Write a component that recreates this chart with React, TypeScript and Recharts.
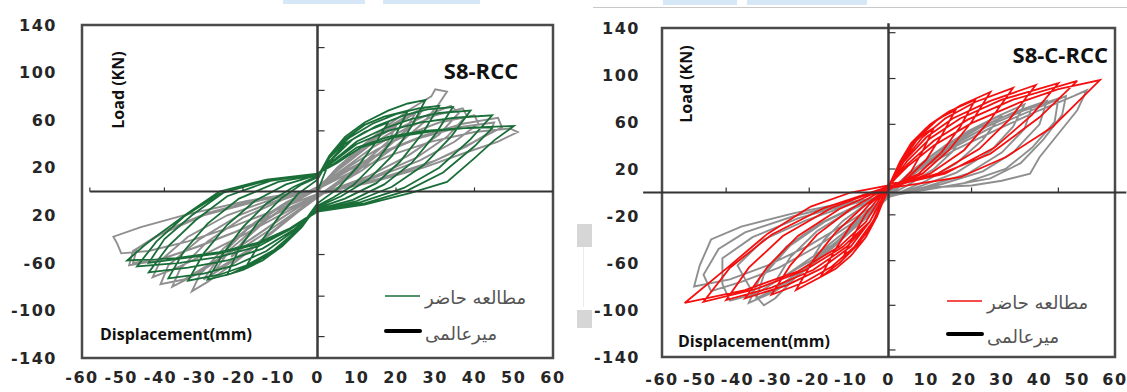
import { ComposedChart, Line, XAxis, YAxis, ReferenceLine, ReferenceArea, Legend } from 'recharts'

type Pt = [number, number]

const xTicks = [-60, -50, -40, -30, -20, -10, 0, 10, 20, 30, 40, 50, 60]
const yTicks = [-140, -100, -60, -20, 20, 60, 100, 140]
const rccYLabels = ['-140', '-100', '-60', '20', '20', '60', '100', '140']
const crccYLabels = ['-140', '-100', '-60', '-20', '20', '60', '100', '140']

const legendNames = ['مطالعه حاضر', 'میرعالمی']

// S8-RCC, present study (FE) - one row per cycle
const rccModel: Pt[][] = [
  [[0, 0], [3, 25], [7, 40], [12, 50], [18, 58], [15, 42], [10, 20], [5, 2], [0, -10], [-4, -28], [-8, -42], [-13, -54], [-18, -62], [-15, -45], [-10, -22], [-5, -2], [0, 10]],
  [[3, 28], [7, 44], [12, 56], [17, 63], [23, 68], [20, 48], [15, 25], [9, 5], [4, -5], [0, -12], [-4, -30], [-9, -46], [-14, -58], [-19, -66], [-23, -70], [-20, -48], [-15, -25], [-9, -5], [-4, 6], [0, 12]],
  [[3, 30], [7, 46], [12, 58], [18, 68], [23, 74], [27.5, 77], [24, 55], [19, 30], [13, 10], [6, -4], [0, -13], [-5, -32], [-10, -48], [-16, -60], [-22, -69], [-28, -74], [-24, -52], [-19, -30], [-13, -10], [-6, 4], [0, 13]],
  [[3, 28], [8, 45], [14, 57], [20, 65], [26, 70], [31, 72], [27, 50], [21, 25], [15, 7], [7, -6], [0, -14], [-5, -32], [-11, -49], [-18, -62], [-25, -70], [-33, -75], [-29, -52], [-23, -28], [-16, -8], [-8, 6], [0, 14]],
  [[4, 28], [9, 44], [15, 55], [22, 64], [28, 69], [34.5, 71], [30, 48], [24, 24], [17, 6], [9, -7], [0, -15], [-6, -33], [-13, -50], [-21, -62], [-29, -69], [-38, -73], [-34, -50], [-28, -27], [-20, -6], [-10, 8], [0, 14]],
  [[4, 26], [10, 42], [17, 53], [24, 61], [31, 66], [39, 68], [34, 46], [27, 22], [19, 4], [10, -8], [0, -16], [-6, -32], [-14, -48], [-23, -58], [-33, -64], [-43, -68], [-38, -46], [-31, -24], [-23, -4], [-12, 9], [0, 15]],
  [[4, 25], [10, 40], [18, 51], [26, 58], [35, 62], [44.5, 64], [39, 44], [31, 20], [22, 3], [11, -9], [0, -16], [-7, -32], [-15, -46], [-25, -55], [-35, -60], [-46, -63], [-41, -42], [-34, -21], [-25, -2], [-13, 10], [0, 15]],
  [[4, 23], [10, 37], [18, 46], [27, 51], [36, 53], [44.7, 54], [40, 38], [32, 16], [23, 1], [12, -10], [0, -16], [-7, -31], [-15, -44], [-25, -52], [-34, -56], [-43, -60], [-39, -40], [-32, -20], [-24, -1], [-12, 10], [0, 15]],
  [[5, 24], [11, 37], [20, 46], [30, 51], [40, 54], [50, 55], [45, 43], [40, 28], [33, 8], [24, -1], [12, -11], [0, -17], [-7, -31], [-15, -43], [-25, -51], [-36, -56], [-48.5, -58], [-44, -45], [-40, -35], [-33, -18], [-25, 0], [-13, 10], [0, 15]],
]

// S8-RCC, Miralami test
const rccTest: Pt[][] = [
  [[0, 0], [5, 18], [10, 32], [15, 45], [20, 55], [18, 42], [12, 25], [6, 10], [0, -4], [-6, -18], [-12, -32], [-18, -45], [-22, -55], [-19, -42], [-13, -24], [-6, -9], [0, 2]],
  [[5, 19], [10, 34], [16, 48], [22, 60], [25, 66], [22, 50], [15, 30], [7, 11], [0, -4], [-6, -20], [-12, -36], [-18, -50], [-24, -62], [-26, -66], [-22, -48], [-15, -28], [-7, -10], [0, 2]],
  [[5, 20], [11, 37], [17, 52], [23, 64], [27, 70], [24, 55], [17, 35], [9, 14], [0, -5], [-7, -22], [-14, -40], [-20, -55], [-26, -68], [-29, -74], [-25, -55], [-18, -32], [-9, -12], [0, 3]],
  [[6, 22], [12, 40], [18, 56], [24, 70], [29, 80], [30, 86], [33, 84], [31, 74], [27, 58], [20, 38], [11, 17], [0, -4], [-8, -24], [-15, -44], [-22, -62], [-28, -76], [-32, -84], [-30, -70], [-24, -48], [-16, -26], [-8, -9], [0, 4]],
  [[6, 20], [13, 38], [20, 52], [27, 63], [34, 72], [36, 66], [31, 48], [23, 30], [13, 13], [0, -3], [-8, -20], [-16, -38], [-24, -55], [-31, -70], [-37, -80], [-35, -65], [-28, -42], [-19, -22], [-9, -7], [0, 3]],
  [[7, 20], [14, 37], [22, 52], [30, 64], [37, 70], [38, 64], [33, 46], [25, 28], [14, 12], [0, -3], [-9, -22], [-17, -40], [-26, -58], [-34, -74], [-40, -78], [-38, -62], [-30, -40], [-20, -20], [-10, -7], [0, 2]],
  [[7, 19], [15, 35], [23, 48], [31, 58], [40, 64], [41, 57], [35, 42], [26, 26], [14, 11], [0, -3], [-9, -19], [-18, -35], [-27, -50], [-35, -63], [-42, -72], [-40, -58], [-33, -38], [-23, -20], [-11, -6], [0, 2]],
  [[8, 19], [17, 34], [27, 47], [37, 57], [46, 62], [47, 54], [40, 42], [30, 26], [16, 11], [0, -3], [-10, -18], [-21, -34], [-32, -48], [-41, -58], [-48, -62], [-47, -50], [-40, -36], [-29, -20], [-14, -7], [0, 2]],
  [[8, 18], [17, 33], [26, 45], [36, 54], [45, 58], [44, 50], [38, 38], [28, 23], [15, 10], [0, -3], [-10, -18], [-20, -33], [-30, -46], [-39, -56], [-47, -60], [-46, -48], [-39, -33], [-28, -18], [-14, -6], [0, 2]],
  [[9, 17], [19, 31], [29, 42], [40, 50], [49, 53], [51, 50], [46, 42], [38, 33], [27, 20], [14, 8], [0, -2], [-11, -16], [-22, -30], [-33, -42], [-43, -50], [-50, -52], [-51, -44], [-52, -38], [-45, -30], [-33, -19], [-18, -8], [0, 2]],
]

// S8-C-RCC, present study (FE)
const crccModel: Pt[][] = [
  [[0, 3], [3, 25], [6, 40], [9, 49], [12, 55], [9, 35], [6, 18], [3, 8], [0, 2], [-3, -18], [-6, -35], [-9, -47], [-12, -55], [-9, -35], [-6, -18], [-3, -6], [0, 4]],
  [[3, 26], [6, 42], [10, 55], [14, 64], [17.7, 70], [14, 48], [10, 28], [5, 12], [0, 4], [-3, -20], [-6, -38], [-10, -54], [-14, -65], [-18, -72], [-14, -48], [-10, -28], [-5, -10], [0, 5]],
  [[3, 26], [7, 45], [11, 58], [16, 69], [23, 79], [19, 56], [14, 34], [8, 16], [0, 4], [-4, -24], [-8, -44], [-13, -60], [-18, -72], [-24.5, -83], [-20, -58], [-14, -34], [-7, -13], [0, 5]],
  [[4, 28], [8, 47], [13, 62], [19, 74], [27, 85.5], [22, 60], [16, 36], [9, 16], [0, 4], [-4, -24], [-9, -46], [-15, -63], [-22, -76], [-31, -87], [-26, -62], [-19, -36], [-10, -14], [0, 5]],
  [[4, 27], [9, 47], [15, 63], [23, 77], [33, 89], [27, 62], [20, 36], [11, 16], [0, 4], [-5, -25], [-10, -46], [-18, -65], [-27, -79], [-38, -90], [-32, -63], [-24, -37], [-13, -14], [0, 5]],
  [[4, 26], [10, 47], [17, 63], [27, 78], [39, 91.5], [32, 62], [24, 37], [13, 16], [0, 4], [-5, -25], [-11, -46], [-20, -66], [-31, -81], [-43, -91.5], [-37, -64], [-28, -37], [-15, -13], [0, 5]],
  [[5, 27], [11, 46], [19, 63], [30, 79], [45, 93], [38, 66], [28, 38], [15, 16], [0, 5], [-5, -25], [-12, -46], [-22, -66], [-35, -82], [-49, -93], [-42, -64], [-31, -36], [-17, -13], [0, 5]],
  [[5, 24], [12, 44], [21, 62], [33, 79], [50, 95], [40, 64], [27, 33], [14, 16], [0, 7], [-6, -25], [-13, -46], [-24, -67], [-38, -83], [-54, -94], [-42.5, -63.5], [-32, -35], [-20.6, -12], [-10, 0], [0, 6]],
  [[5, 22], [12, 40], [22, 59], [35, 77], [45, 88], [56, 95.7], [43.5, 56], [31, 30], [19, 13], [5, 6], [0, 4]],
]

// S8-C-RCC, Miralami test
const crccTest: Pt[][] = [
  [[0, 0], [5, 15], [10, 28], [15, 40], [20, 50], [17, 35], [12, 20], [6, 8], [0, -3], [-5, -18], [-10, -32], [-15, -45], [-20, -55], [-17, -40], [-12, -24], [-6, -10], [0, 0]],
  [[6, 17], [12, 33], [19, 48], [26, 60], [30, 66], [25, 45], [18, 25], [10, 10], [0, -4], [-6, -22], [-13, -40], [-20, -57], [-27, -70], [-30, -76], [-26, -55], [-19, -33], [-10, -15], [0, 0]],
  [[6, 18], [13, 35], [21, 52], [29, 65], [36, 75], [33, 56], [27, 35], [18, 17], [9, 6], [0, -4], [-7, -24], [-14, -45], [-22, -66], [-30, -84], [-37, -94], [-34, -72], [-27, -46], [-18, -26], [-9, -12], [0, -2]],
  [[7, 18], [14, 35], [22, 52], [30, 64], [38, 73], [36, 54], [30, 34], [21, 16], [10, 5], [0, -4], [-7, -25], [-15, -46], [-23, -66], [-30, -82], [-35, -90], [-33, -70], [-26, -45], [-17, -25], [-8, -11], [0, -2]],
  [[7, 19], [15, 37], [24, 55], [33, 68], [42, 78], [40, 58], [33, 34], [25, 18], [14, 7], [0, -3], [-8, -26], [-16, -48], [-24, -70], [-30, -90], [-33, -96], [-36, -85], [-40, -62], [-33, -40], [-22, -24], [-10, -10], [0, -2]],
  [[8, 20], [16, 38], [26, 56], [36, 70], [45, 80], [44, 60], [38, 38], [31, 20], [20, 8], [0, -3], [-9, -27], [-18, -50], [-27, -70], [-35, -86], [-42, -92], [-44, -78], [-44, -56], [-36, -38], [-24, -22], [-11, -10], [0, -3]],
  [[8, 20], [17, 38], [27, 55], [38, 70], [47, 82], [46, 66], [41, 45], [35, 25], [27, 12], [15, 5], [0, -3], [-9, -25], [-19, -46], [-29, -64], [-39, -76], [-47, -84], [-49, -70], [-45, -48], [-38, -34], [-25, -20], [-12, -10], [0, -3]],
  [[8, 19], [18, 37], [29, 54], [40, 70], [49, 82], [52.5, 87], [50, 70], [45, 50], [40, 30], [37.5, 16], [30, 10], [22, 6], [9, 4], [0, -3], [-10, -24], [-21, -45], [-32, -62], [-42, -74], [-51.5, -80], [-50, -62], [-47, -40], [-39, -29], [-25, -17.5], [-12, -9], [0, -3]],
]

// small tick marks sitting on the zero axes
const rccZeroTicksY = [121, 85, 51, -53, -88, -122]
const rccZeroTicksX = [-58, -39, -19, 20, 40]
const crccZeroTicksY = [136, 97, 58, 20, -19, -58, -96, -134]
const crccZeroTicksX = [-43, -21, 22, 45]

const toRows = (loops: Pt[][]) => loops.flat().map(([x, y]) => ({ x, y }))

const tickFont = { fill: '#262626', fontSize: 16, fontWeight: 700, fontFamily: 'DejaVu Sans', letterSpacing: 1.5 }
const boldText = { fontFamily: 'Open Sans', fontWeight: 700, fill: '#111' }

function LegendBox({ color, gap }: { color: string; gap: number }) {
  return (
    <svg width={170} height={75} style={{ display: 'block' }}>
      <line x1={5} x2={40} y1={16} y2={16} stroke={color} strokeWidth={1.5} />
      <text x={45} y={24} fontSize={18} fontFamily="DejaVu Sans" fill="#555">{legendNames[0]}</text>
      <line x1={6} x2={40} y1={16 + gap} y2={16 + gap} stroke="#000" strokeWidth={4} strokeLinecap="round" />
      <text x={45} y={25 + gap} fontSize={18} fontFamily="DejaVu Sans" fill="#555">{legendNames[1]}</text>
    </svg>
  )
}

type PanelProps = {
  left: number
  width: number
  top: number
  right: number
  axisH: number
  xGap: number
  yGap: number
  yLabels: string[]
  model: Pt[][]
  test: Pt[][]
  color: string
  ticksX: number[]
  ticksY: number[]
  tickLenX: number
  tickLenY: number
  hLine: [number, number]
  vTop: number
  legendLeft: number
  legendTop: number
  legendGap: number
  title: string
  titleX: number
  titleY: number
  titleAnchor: 'start' | 'middle' | 'end'
  loadX: number
  loadY: number
  dispX: number
  dispY: number
}

function Panel(p: PanelProps) {
  const modelRows = toRows(p.model)
  const testRows = toRows(p.test)
  return (
    <div style={{ position: 'absolute', left: p.left, top: 0, width: p.width, height: 392 }}>
      <ComposedChart width={p.width} height={392} margin={{ top: p.top, right: p.right, bottom: 0, left: 0 }}>
        <XAxis
          type="number"
          dataKey="x"
          domain={[-60, 60]}
          ticks={xTicks}
          interval={0}
          height={p.axisH}
          axisLine={false}
          tickLine={false}
          tickSize={0}
          tickMargin={p.xGap}
          tick={tickFont}
        />
        <YAxis
          type="number"
          domain={[-140, 140]}
          ticks={yTicks}
          interval={0}
          width={82}
          axisLine={false}
          tickLine={false}
          tickSize={0}
          tickMargin={p.yGap}
          tick={tickFont}
          tickFormatter={(v: number) => p.yLabels[yTicks.indexOf(v)]}
        />
        <ReferenceArea x1={-60} x2={60} y1={-140} y2={140} fill="none" fillOpacity={0} stroke="#4a4a4a" strokeWidth={2.5} />
        <Line data={testRows} dataKey="y" type="linear" stroke="#444" strokeOpacity={0.6} strokeWidth={1.9} dot={false} activeDot={false} isAnimationActive={false} legendType="none" />
        <Line data={modelRows} dataKey="y" type="linear" stroke={p.color} strokeWidth={1.8} dot={false} activeDot={false} isAnimationActive={false} legendType="none" />
        <ReferenceLine segment={[{ x: p.hLine[0], y: 0 }, { x: p.hLine[1], y: 0 }]} stroke="#333" strokeWidth={1.8} ifOverflow="visible" />
        <ReferenceLine segment={[{ x: 0, y: p.vTop }, { x: 0, y: -140 }]} stroke="#3a3a3a" strokeWidth={2.5} ifOverflow="visible" />
        {p.ticksY.map((v) => (
          <ReferenceLine key={'ty' + v} segment={[{ x: 0, y: v }, { x: p.tickLenY, y: v }]} stroke="#333" strokeWidth={1.2} />
        ))}
        {p.ticksX.map((v) => (
          <ReferenceLine key={'tx' + v} segment={[{ x: v, y: 0 }, { x: v, y: p.tickLenX }]} stroke="#333" strokeWidth={1.2} />
        ))}
        <Legend
          layout="vertical"
          align="center"
          verticalAlign="middle"
          wrapperStyle={{ left: p.legendLeft, top: p.legendTop, width: 170, height: 75 }}
          content={() => <LegendBox color={p.color} gap={p.legendGap} />}
        />
      </ComposedChart>
      <svg width={p.width} height={392} style={{ position: 'absolute', left: 0, top: 0, pointerEvents: 'none' }}>
        <text x={p.titleX} y={p.titleY} textAnchor={p.titleAnchor} fontSize={22} {...boldText}>{p.title}</text>
        <text transform={`translate(${p.loadX},${p.loadY}) rotate(-90)`} textAnchor="middle" fontSize={16} {...boldText}>Load (KN)</text>
        <text x={p.dispX} y={p.dispY} fontSize={16} {...boldText}>Displacement(mm)</text>
      </svg>
    </div>
  )
}

export default function App() {
  return (
    <div style={{ position: 'absolute', left: 0, top: 0, width: 1127, height: 392, background: '#fff', overflow: 'hidden' }}>
      <div style={{ position: 'absolute', left: 283, top: 0, width: 82, height: 4, background: '#d6e7f8' }} />
      <div style={{ position: 'absolute', left: 383, top: 0, width: 97, height: 4, background: '#d6e7f8' }} />
      <div style={{ position: 'absolute', left: 663, top: 0, width: 74, height: 5, background: '#d6e7f8' }} />
      <div style={{ position: 'absolute', left: 747, top: 0, width: 120, height: 5, background: '#d6e7f8' }} />
      <div style={{ position: 'absolute', left: 593, top: 7, width: 534, height: 1, background: '#c8c8c8' }} />
      <div style={{ position: 'absolute', left: 583, top: 247, width: 1, height: 60, background: '#ececec' }} />
      <div style={{ position: 'absolute', left: 577, top: 224, width: 15, height: 23, background: '#d6d6d6' }} />
      <div style={{ position: 'absolute', left: 577, top: 310, width: 15, height: 18, background: '#d6d6d6' }} />
      <Panel
        left={0}
        width={575}
        top={25}
        right={22}
        axisH={34}
        xGap={14}
        yGap={25}
        yLabels={rccYLabels}
        model={rccModel}
        test={rccTest}
        color="#1a6e38"
        ticksX={rccZeroTicksX}
        ticksY={rccZeroTicksY}
        tickLenX={3.4}
        tickLenY={1.8}
        hLine={[-58, 60]}
        vTop={140}
        legendLeft={380}
        legendTop={280}
        legendGap={35}
        title="S8-RCC"
        titleX={481}
        titleY={79}
        titleAnchor="middle"
        loadX={124}
        loadY={90}
        dispX={100}
        dispY={340}
      />
      <Panel
        left={580}
        width={547}
        top={28}
        right={12}
        axisH={35}
        xGap={17}
        yGap={22}
        yLabels={crccYLabels}
        model={crccModel}
        test={crccTest}
        color="#f51010"
        ticksX={crccZeroTicksX}
        ticksY={crccZeroTicksY}
        tickLenX={4.3}
        tickLenY={1.85}
        hLine={[-65, 63]}
        vTop={144}
        legendLeft={362}
        legendTop={285}
        legendGap={33}
        title="S8-C-RCC"
        titleX={528}
        titleY={63}
        titleAnchor="end"
        loadX={112}
        loadY={84}
        dispX={98}
        dispY={347}
      />
    </div>
  )
}
